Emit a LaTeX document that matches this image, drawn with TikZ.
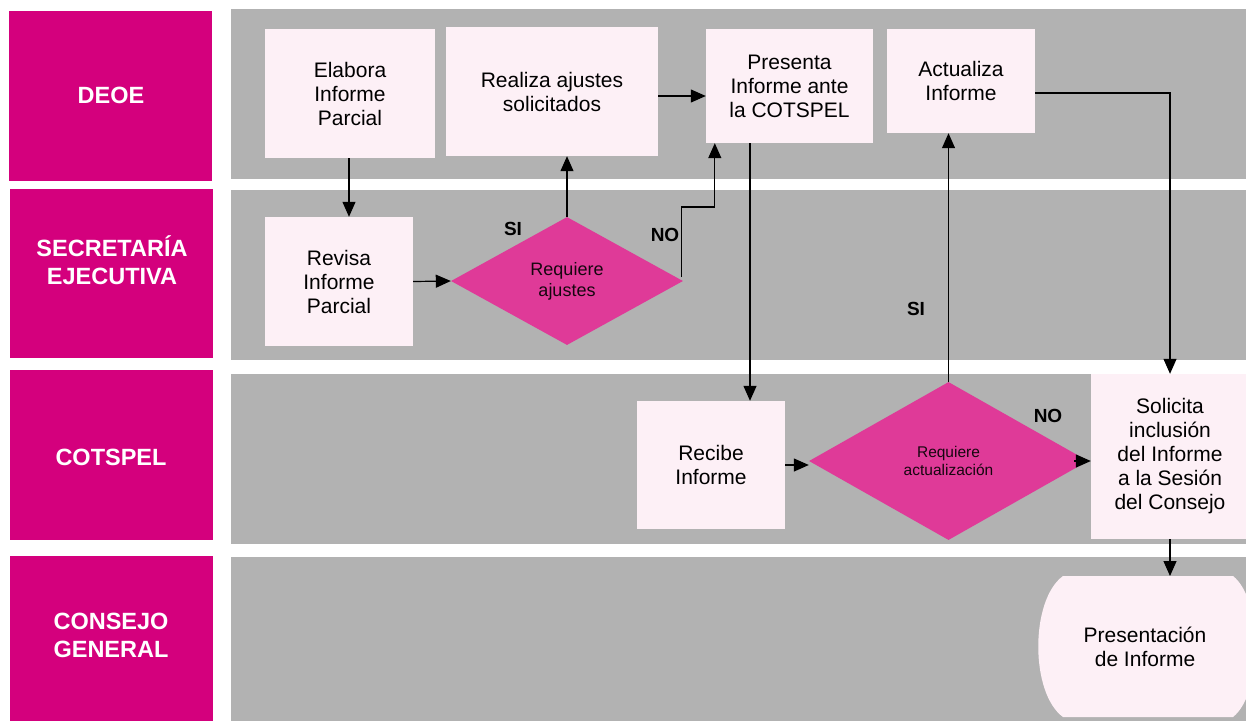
\documentclass[tikz,border=0pt]{standalone}
\usepackage{fontspec}
\setmainfont{Liberation Sans}
\usetikzlibrary{shapes.geometric,arrows.meta,calc}
\definecolor{lanemag}{HTML}{D4007D}
\definecolor{lanegray}{HTML}{B2B2B2}
\definecolor{boxfill}{HTML}{FDF0F6}
\definecolor{diafill}{HTML}{DF3A98}
\tikzset{
  lanebox/.style={fill=lanemag},
  lanetext/.style={text=white, font=\fontsize{23.5}{28}\selectfont\bfseries, align=center, inner sep=0},
  lanebg/.style={fill=lanegray},
  procbox/.style={fill=boxfill, font=\fontsize{21}{24}\selectfont, align=center, inner sep=0, text=black},
  decis/.style={diamond, fill=diafill, align=center, inner sep=0, text=black!90!diafill},
  arr/.style={draw=black, line width=1.2pt, -{Triangle[length=15pt,width=13pt]}},
  branch/.style={font=\fontsize{19}{22}\selectfont\bfseries, inner sep=0}
}
\begin{document}
\begin{tikzpicture}[x=1pt,y=-1pt]
\clip (0,0) rectangle (1246,721);
\fill[white] (0,0) rectangle (1246,721);
% lane backgrounds
\fill[lanebg] (231,9) rectangle (1246,179);
\fill[lanebg] (231,190) rectangle (1246,360);
\fill[lanebg] (231,374) rectangle (1246,544);
\fill[lanebg] (231,557) rectangle (1246,721);
% lane labels
\fill[lanebox] (9,11) rectangle (212,181);
\fill[lanebox] (10,189) rectangle (213,358);
\fill[lanebox] (10,370) rectangle (213,540);
\fill[lanebox] (10,556) rectangle (213,721);
\node[lanetext] (ldeoe) at (111,95.5) {DEOE};
\node[lanetext] (lsec) at (112,260) {SECRETARÍA\\EJECUTIVA};
\node[lanetext] (lcot) at (111,457) {COTSPEL};
\node[lanetext] (lcon) at (111,635.5) {CONSEJO\\GENERAL};
% process boxes
\node[procbox, minimum width=170, minimum height=129] (elab) at (350,93.5) {Elabora\\Informe\\Parcial};
\node[procbox, minimum width=212, minimum height=129] (real) at (552,91.5) {Realiza ajustes\\solicitados};
\node[procbox, minimum width=167, minimum height=114] (pres) at (789.5,86) {Presenta\\Informe ante\\la COTSPEL};
\node[procbox, minimum width=148, minimum height=104] (actu) at (961,81) {Actualiza\\Informe};
\node[procbox, minimum width=148, minimum height=129] (revi) at (339,281.5) {Revisa\\Informe\\Parcial};
\node[procbox, minimum width=148, minimum height=128] (reci) at (711,465) {Recibe\\Informe};
\node[procbox, minimum width=158, minimum height=165] (soli) at (1170,456.5) {Solicita\\inclusión\\del Informe\\a la Sesión\\del Consejo};
% decisions
\node[decis, minimum width=232, minimum height=128, font=\fontsize{18}{21}\selectfont] (d1) at (567,281) {Requiere\\ajustes};
\node[decis, minimum width=279, minimum height=158, font=\fontsize{15.5}{18}\selectfont] (d2) at (948.5,461) {Requiere\\actualización};
% terminal shape
\fill[boxfill] (1063,576) -- (1233,576) .. controls (1263,600) and (1263,693) .. (1233,717) -- (1063,717) .. controls (1030,693) and (1030,600) .. (1063,576) -- cycle;
\node[procbox, fill=none, minimum width=200, minimum height=141] (prst) at (1145,646.5) {Presentación\\de Informe};
% connectors
\draw[arr] (elab.south -| 349,0) -- (349,0 |- revi.north);
\draw[arr] (revi.east) -- (d1.west);
\draw[arr] (d1.north) -- (d1.north |- real.south);
\draw[arr] ($(d1.east)+(-2,-4)$) -- ++(0,-70) -| ($(pres.south west)+(9,0)$);
\draw[arr] (real.east |- 0,96) -- (pres.west |- 0,96);
\draw[arr] (750,0 |- pres.south) -- (750,0 |- reci.north);
\draw[arr] (d2.north) -- (d2.north |- actu.south);
\draw[arr] ($(actu.east)+(0,12)$) -| (soli.north);
\draw[arr] (reci.east) -- (reci.east -| d2.west);
\draw[arr] ($(d2.east)+(-14,0)$) -- (soli.west |- d2.east);
\draw[arr] (soli.south) -- (soli.south |- 0,576);
% branch labels
\node[branch] (si1) at (513,229) {SI};
\node[branch] (no1) at (665,235) {NO};
\node[branch] (si2) at (916,309) {SI};
\node[branch] (no2) at (1048,416) {NO};
\end{tikzpicture}
\end{document}
